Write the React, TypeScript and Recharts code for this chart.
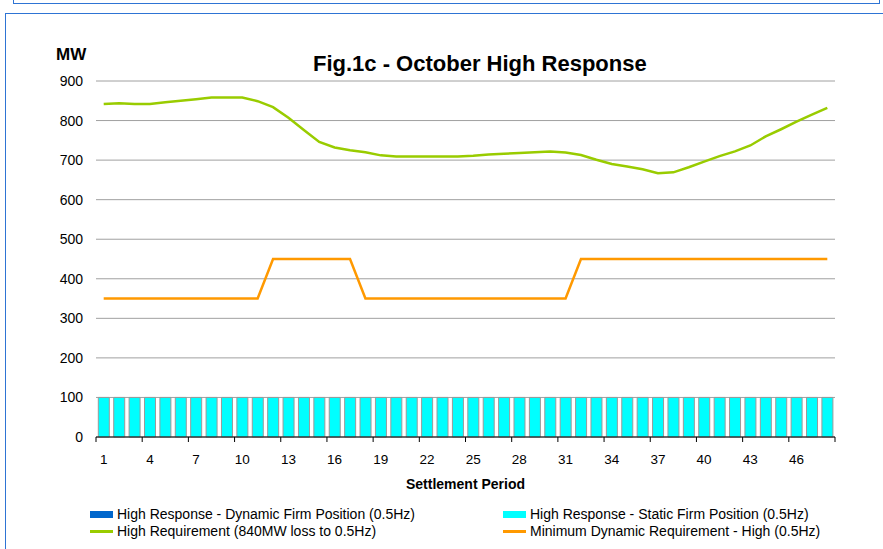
import React from 'react';
import { ComposedChart, Bar, Line, XAxis, YAxis, CartesianGrid } from 'recharts';

const periods = ['1','2','3','4','5','6','7','8','9','10','11','12','13','14','15','16','17','18','19','20','21','22','23','24','25','26','27','28','29','30','31','32','33','34','35','36','37','38','39','40','41','42','43','44','45','46','47','48'];

const dynamicFirm = [0,0,0,0,0,0,0,0,0,0,0,0,0,0,0,0,0,0,0,0,0,0,0,0,0,0,0,0,0,0,0,0,0,0,0,0,0,0,0,0,0,0,0,0,0,0,0,0];

const staticFirm = [100,100,100,100,100,100,100,100,100,100,100,100,100,100,100,100,100,100,100,100,100,100,100,100,100,100,100,100,100,100,100,100,100,100,100,100,100,100,100,100,100,100,100,100,100,100,100,100];

const highRequirement = [842,844,842,842,846,850,854,858,858,858,849,834,807,776,746,732,725,720,712,709,709,709,709,709,711,714,716,718,720,722,719,713,701,690,684,677,667,669,682,696,710,722,737,760,778,797,815,832];

const minDynamic = [350,350,350,350,350,350,350,350,350,350,350,450,450,450,450,450,450,350,350,350,350,350,350,350,350,350,350,350,350,350,350,450,450,450,450,450,450,450,450,450,450,450,450,450,450,450,450,450];

const yTicks = [0,100,200,300,400,500,600,700,800,900];

const seriesNames = {
  dynamic: 'High Response - Dynamic Firm Position (0.5Hz)',
  static: 'High Response - Static Firm Position (0.5Hz)',
  req: 'High Requirement (840MW loss to 0.5Hz)',
  min: 'Minimum Dynamic Requirement - High (0.5Hz)',
};

const data = periods.map((p, i) => ({
  period: p,
  dynamic: dynamicFirm[i],
  static: staticFirm[i],
  req: highRequirement[i],
  min: minDynamic[i],
}));

const W = 883;
const H = 549;
const PLOT_LEFT = 96;
const PLOT_RIGHT = 835;
const PLOT_TOP = 81;
const PLOT_BOTTOM = 437;
const Y_AXIS_W = 60;
const X_AXIS_H = 30;
const BAND = (PLOT_RIGHT - PLOT_LEFT) / periods.length;
const FONT = '"Liberation Sans", Arial, sans-serif';
const BORDER = '#2E74D4';

const XTick = (props: any) => {
  const { x, y, payload } = props;
  const i = payload && payload.index !== undefined ? payload.index : props.index;
  const show = i % 3 === 0;
  return (
    <g>
      {show && <line x1={x - BAND / 2} x2={x - BAND / 2} y1={y} y2={y + 5} stroke="#000" strokeWidth={1} />}
      {i === periods.length - 1 && (
        <line x1={x + BAND / 2} x2={x + BAND / 2} y1={y} y2={y + 5} stroke="#000" strokeWidth={1} />
      )}
      {show && (
        <text x={x} y={y + 27} textAnchor="middle" fontSize={13.5} fill="#000" fontFamily={FONT}>
          {payload.value}
        </text>
      )}
    </g>
  );
};

const LegendItem = ({ kind, color, label, left, top }: any) => (
  <div style={{ position: 'absolute', left, top, height: 14, display: 'flex', alignItems: 'center', whiteSpace: 'nowrap' }}>
    <div style={{ width: 23, height: 14, position: 'relative', marginRight: 4 }}>
      {kind === 'rect' ? (
        <div style={{ position: 'absolute', left: 0, top: 4, width: 23, height: 7, background: color }} />
      ) : (
        <div style={{ position: 'absolute', left: 0, top: 6, width: 23, height: 2.5, background: color }} />
      )}
    </div>
    <span style={{ fontSize: 14, lineHeight: '14px', color: '#000' }}>{label}</span>
  </div>
);

export default function App() {
  return (
    <div style={{ position: 'absolute', left: 0, top: 0, width: W, height: H, overflow: 'hidden', background: '#fff', fontFamily: FONT }}>
      <div style={{ position: 'absolute', left: 13, top: -10, width: 867, height: 14, border: `1px solid ${BORDER}`, boxSizing: 'border-box' }} />
      <div style={{ position: 'absolute', left: 5, top: 13, width: 900, height: 600, border: `1px solid ${BORDER}`, boxSizing: 'border-box' }} />

      <div style={{ position: 'absolute', left: 313, top: 53, fontSize: 22, lineHeight: '22px', fontWeight: 'bold', color: '#000', whiteSpace: 'nowrap' }}>
        Fig.1c - October High Response
      </div>
      <div style={{ position: 'absolute', left: 56, top: 45.5, fontSize: 17, lineHeight: '17px', fontWeight: 'bold', color: '#000' }}>
        MW
      </div>

      <div style={{ position: 'absolute', left: 0, top: 0 }}>
        <ComposedChart
          width={W}
          height={H}
          data={data}
          margin={{ top: PLOT_TOP, right: W - PLOT_RIGHT, bottom: H - PLOT_BOTTOM - X_AXIS_H, left: PLOT_LEFT - Y_AXIS_W }}
          barCategoryGap="15%"
        >
          <CartesianGrid horizontal vertical={false} stroke="#a0a0a0" strokeWidth={1} />
          <XAxis
            dataKey="period"
            interval={0}
            height={X_AXIS_H}
            axisLine={{ stroke: '#000', strokeWidth: 1 }}
            tickLine={false}
            tickSize={0}
            tickMargin={0}
            tick={<XTick />}
          />
          <YAxis
            domain={[0, 900]}
            ticks={yTicks}
            width={Y_AXIS_W}
            axisLine={false}
            tickLine={false}
            tickSize={0}
            tickMargin={13}
            tick={{ fill: '#000', fontSize: 14, fontFamily: FONT }}
          />
          <Bar dataKey="dynamic" name={seriesNames.dynamic} stackId="a" fill="#0066CC" isAnimationActive={false} />
          <Bar dataKey="static" name={seriesNames.static} stackId="a" fill="#00FFFF" stroke="#9a9a9a" strokeWidth={1} isAnimationActive={false} />
          <Line dataKey="req" name={seriesNames.req} type="linear" stroke="#99CC00" strokeWidth={2.5} dot={false} isAnimationActive={false} />
          <Line dataKey="min" name={seriesNames.min} type="linear" stroke="#FF9900" strokeWidth={2.5} dot={false} isAnimationActive={false} />
        </ComposedChart>
      </div>

      <div style={{ position: 'absolute', left: 365.5, top: 477, width: 200, textAlign: 'center', fontSize: 14, lineHeight: '14px', fontWeight: 'bold', color: '#000' }}>
        Settlement Period
      </div>

      <LegendItem kind="rect" color="#0066CC" label={seriesNames.dynamic} left={90} top={507} />
      <LegendItem kind="rect" color="#00FFFF" label={seriesNames.static} left={503} top={507} />
      <LegendItem kind="line" color="#99CC00" label={seriesNames.req} left={90} top={524} />
      <LegendItem kind="line" color="#FF9900" label={seriesNames.min} left={503} top={524} />
    </div>
  );
}
